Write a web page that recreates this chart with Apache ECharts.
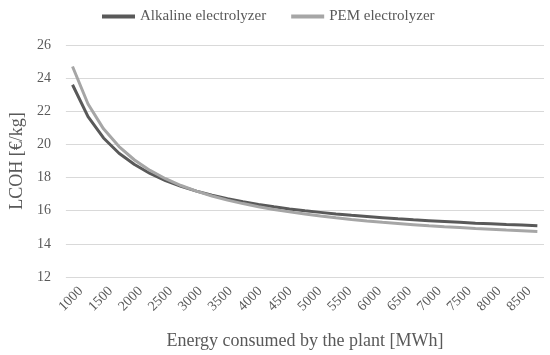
<!DOCTYPE html>
<html>
<head>
<meta charset="utf-8">
<script src="https://cdn.jsdelivr.net/npm/echarts@6/dist/echarts.min.js"></script>
<style>html,body{margin:0;padding:0;background:#fff}#c{width:550px;height:355px}</style>
</head>
<body>
<div id="c"></div>
<script>
var tickLabels = ['1000','1500','2000','2500','3000','3500','4000','4500','5000','5500','6000','6500','7000','7500','8000','8500'];
var energy = [1000,1250,1500,1750,2000,2250,2500,2750,3000,3250,3500,3750,4000,4250,4500,4750,5000,5250,5500,5750,6000,6250,6500,6750,7000,7250,7500,7750,8000,8250,8500];
var alkaline = [23.60,21.68,20.39,19.47,18.79,18.25,17.82,17.47,17.18,16.93,16.72,16.54,16.38,16.24,16.11,16.00,15.90,15.80,15.72,15.65,15.58,15.51,15.45,15.40,15.35,15.30,15.25,15.21,15.17,15.14,15.10];
var pem = [24.70,22.44,20.94,19.87,19.06,18.43,17.93,17.52,17.18,16.89,16.64,16.43,16.24,16.07,15.93,15.80,15.68,15.57,15.47,15.38,15.30,15.23,15.16,15.09,15.03,14.98,14.92,14.88,14.83,14.79,14.75];

function pairs(xs, ys){ return xs.map(function(x,i){ return [x, ys[i]]; }); }
var font = 'Liberation Serif';
var chart = echarts.init(document.getElementById('c'), null, {renderer:'canvas'});
chart.setOption({
  animation:false,
  backgroundColor:'#fff',
  textStyle:{fontFamily:font, color:'#595959'},
  legend:{
    top:4, left:97, itemGap:25, itemWidth:33, itemHeight:4, icon:'rect',
    textStyle:{fontFamily:font, fontSize:15, color:'#595959'},
    data:['Alkaline electrolyzer','PEM electrolyzer']
  },
  grid:{left:60, right:6, top:45, bottom:78, containLabel:false},
  xAxis:[{
    type:'category', data:tickLabels, boundaryGap:true,
    axisLine:{show:false}, axisTick:{show:false}, splitLine:{show:false},
    axisLabel:{rotate:45, interval:0, margin:12, fontFamily:font, fontSize:14, color:'#595959'},
    name:'Energy consumed by the plant [MWh]', nameLocation:'middle', nameGap:55,
    nameTextStyle:{fontFamily:font, fontSize:18, color:'#595959'}
  },{
    type:'value', show:false, min:893, max:8607, gridIndex:0
  }],
  yAxis:{
    type:'value', min:12, max:26, interval:2,
    axisLine:{show:false}, axisTick:{show:false},
    splitLine:{lineStyle:{color:'#d9d9d9', width:1}},
    axisLabel:{margin:15, fontFamily:font, fontSize:14, color:'#595959'},
    name:'LCOH [€/kg]', nameLocation:'middle', nameGap:36, nameRotate:90,
    nameTextStyle:{fontFamily:font, fontSize:18, color:'#595959'}
  },
  series:[{
    name:'Alkaline electrolyzer', type:'line', xAxisIndex:1, data:pairs(energy, alkaline),
    symbol:'none', lineStyle:{color:'#595959', width:3}, itemStyle:{color:'#595959'}
  },{
    name:'PEM electrolyzer', type:'line', xAxisIndex:1, data:pairs(energy, pem),
    symbol:'none', lineStyle:{color:'#a6a6a6', width:3}, itemStyle:{color:'#a6a6a6'}
  }]
});
</script>
</body>
</html>
